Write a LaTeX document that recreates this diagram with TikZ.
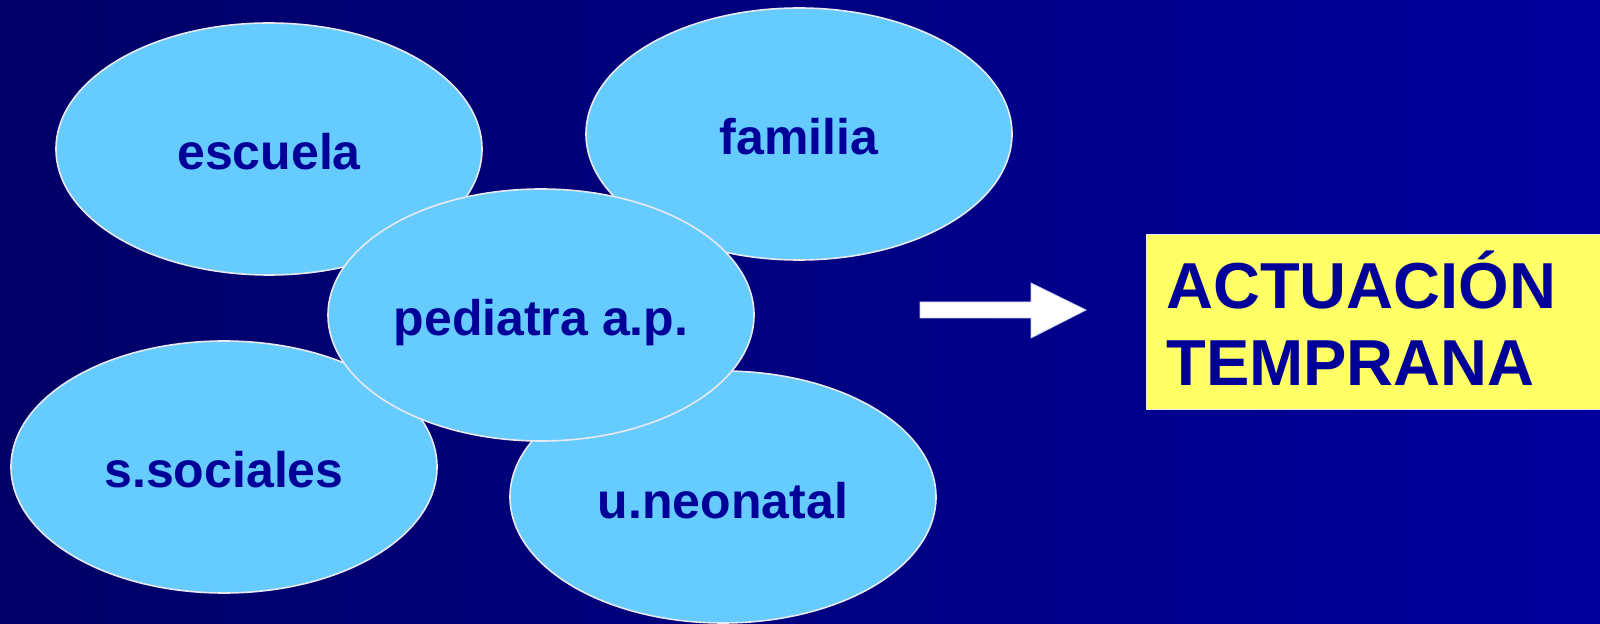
\documentclass[tikz,border=0pt]{standalone}
\usepackage{fontspec}
\setmainfont{Liberation Sans}
\usetikzlibrary{shapes.geometric}
\definecolor{bgl}{HTML}{000066}
\definecolor{bgr}{HTML}{00009C}
\definecolor{bubfill}{HTML}{66CCFF}
\definecolor{ink}{HTML}{000099}
\definecolor{boxfill}{HTML}{FFFF66}
\definecolor{rim}{HTML}{E8E8EE}
\tikzset{
  bub/.style={ellipse, draw=rim, line width=0.8pt, fill=bubfill, inner sep=0pt,
    minimum width=213pt, minimum height=126pt, text=ink,
    text height=21pt, text depth=0pt,
    font=\fontsize{25pt}{30pt}\selectfont\bfseries},
  bigtxt/.style={anchor=base west, inner sep=0pt, text=ink,
    font=\fontsize{32.5pt}{38pt}\selectfont\bfseries},
  panel/.style={draw=rim, line width=0.6pt, fill=boxfill, inner sep=0pt, anchor=north west},
  arrowshape/.style={fill=white, draw=white!80!blue, line width=0.4pt}
}
\begin{document}
\begin{tikzpicture}[x=0.5pt, y=-0.5pt]
\useasboundingbox (0,0) rectangle (1600,624);
\shade[left color=bgl, right color=bgr] (0,0) rectangle (1600,624);
% bubbles
\node[bub] (esc) at (269,149) {escuela};
\node[bub] (fam) at (799,134) {familia};
\node[bub] (soc) at (224,467) {s.sociales};
\node[bub] (neo) at (723,497) {u.neonatal};
\node[bub] (ped) at (541,315) {pediatra a.p.};
% arrow
\coordinate (a1) at (920,302);
\filldraw[arrowshape] (a1) -- (1031,302) -- (1031,283) -- (1086,310) -- (1031,338) -- (1031,318) -- (920,318) -- cycle;
% result panel
\node[panel, minimum width=230pt, minimum height=87.5pt] (panel) at (1146,234) {};
\node[bigtxt] (t1) at (1166,309) {ACTUACIÓN};
\node[bigtxt] (t2) at (1166,386) {TEMPRANA};
\end{tikzpicture}
\end{document}
